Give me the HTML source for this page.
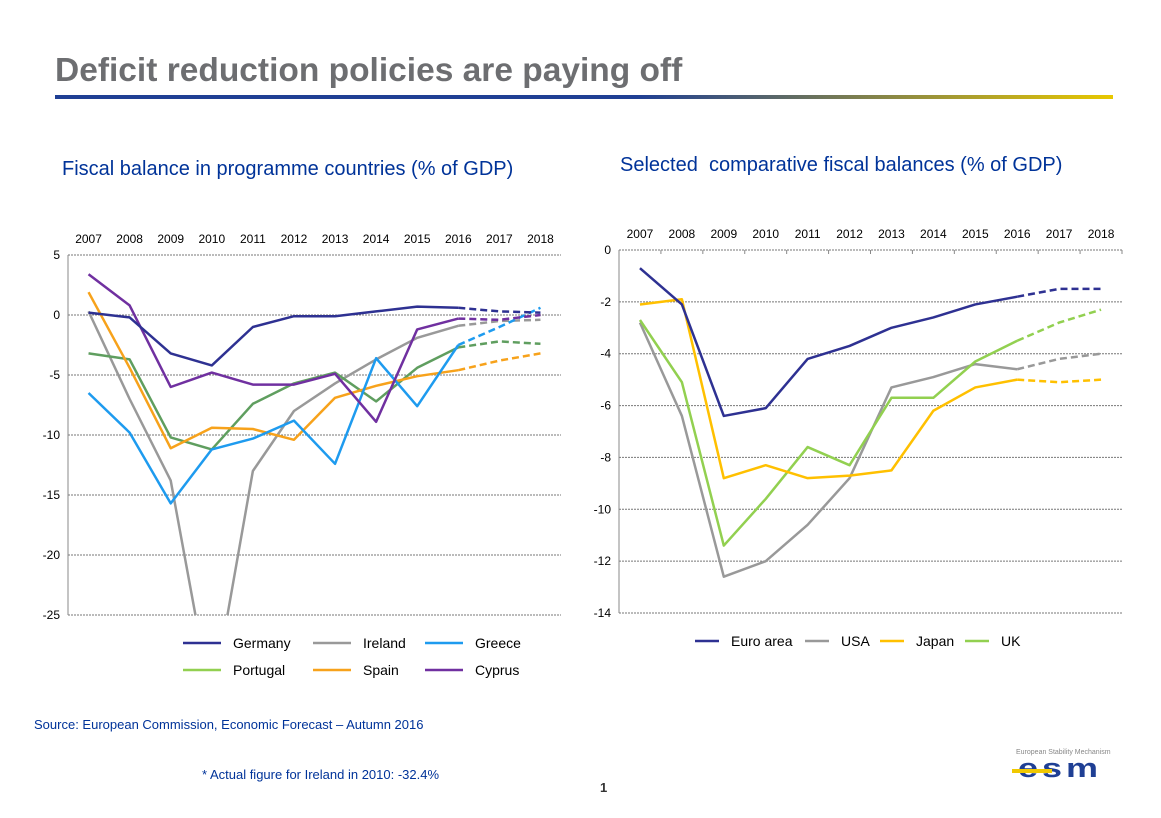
<!DOCTYPE html>
<html><head><meta charset="utf-8"><style>
body{margin:0;width:1161px;height:818px;background:#fff;font-family:"Liberation Sans",Arial,sans-serif;overflow:hidden;position:relative}
.t{position:absolute;white-space:nowrap}
</style></head><body>
<div class="t" style="left:55px;top:52px;font-size:33.5px;font-weight:bold;color:#6d6e71">Deficit reduction policies are paying off</div>
<div style="position:absolute;left:55px;top:95px;width:1058px;height:4px;background:linear-gradient(to right,#1f3f94 0%,#1f3f94 55%,#e8c800 100%)"></div>
<div class="t" style="left:62px;top:158px;font-size:20px;color:#003399">Fiscal balance in programme countries (% of GDP)</div>
<div class="t" style="left:620px;top:154px;font-size:20px;color:#003399">Selected&nbsp; comparative fiscal balances (% of GDP)</div>
<svg id="chart" width="1161" height="818" style="position:absolute;left:0;top:0"></svg>
<div class="t" style="left:34px;top:717px;font-size:13px;color:#003399">Source: European Commission, Economic Forecast – Autumn 2016</div>
<div class="t" style="left:202px;top:767px;font-size:13px;color:#003399">* Actual figure for Ireland in 2010: -32.4%</div>
<div class="t" style="left:600px;top:780px;font-size:13px;font-weight:bold;color:#333">1</div>
<div class="t" style="left:1016px;top:749px;font-size:7px;color:#888">European Stability Mechanism</div>
<div class="t" style="left:1018px;top:752px;font-size:36px;font-weight:bold;color:#1f3f94;letter-spacing:4px;transform:scaleY(0.75);transform-origin:top left">esm</div>
<div style="position:absolute;left:1012px;top:769px;width:40px;height:4px;background:#f0c800"></div>
<script>
const years=["2007","2008","2009","2010","2011","2012","2013","2014","2015","2016","2017","2018"];
const germany=[0.2,-0.2,-3.2,-4.2,-1.0,-0.1,-0.1,0.3,0.7,0.6,0.3,0.2];
const ireland=[0.3,-7.0,-13.8,-32.4,-13.0,-8.0,-5.7,-3.7,-1.9,-0.9,-0.5,-0.4];
const greece=[-6.5,-9.8,-15.7,-11.2,-10.3,-8.8,-12.4,-3.6,-7.6,-2.5,-1.0,0.6];
const portugal=[-3.2,-3.7,-10.2,-11.2,-7.4,-5.7,-4.8,-7.2,-4.4,-2.7,-2.2,-2.4];
const spain=[1.9,-4.4,-11.1,-9.4,-9.5,-10.4,-6.9,-5.9,-5.1,-4.6,-3.8,-3.2];
const cyprus=[3.4,0.8,-6.0,-4.8,-5.8,-5.8,-4.9,-8.9,-1.2,-0.3,-0.4,0.0];
const euroArea=[-0.7,-2.1,-6.4,-6.1,-4.2,-3.7,-3.0,-2.6,-2.1,-1.8,-1.5,-1.5];
const usa=[-2.8,-6.4,-12.6,-12.0,-10.6,-8.8,-5.3,-4.9,-4.4,-4.6,-4.2,-4.0];
const japan=[-2.1,-1.9,-8.8,-8.3,-8.8,-8.7,-8.5,-6.2,-5.3,-5.0,-5.1,-5.0];
const uk=[-2.7,-5.1,-11.4,-9.6,-7.6,-8.3,-5.7,-5.7,-4.3,-3.5,-2.8,-2.3];
const leftTicks=[5,0,-5,-10,-15,-20,-25];
const rightTicks=[0,-2,-4,-6,-8,-10,-12,-14];
const forecastStart=9;
const NS="http://www.w3.org/2000/svg";
const svg=document.getElementById("chart");
function mk(tag,attrs,parent){const e=document.createElementNS(NS,tag);for(const k in attrs)e.setAttribute(k,attrs[k]);(parent||svg).appendChild(e);return e;}
function chart(cfg){
  const {x0,x1,y0,y1,vmax,vmin,ticks,series,id,topTicks}=cfg;
  const bw=(x1-x0)/years.length;
  const X=i=>x0+bw*(i+0.5);
  const Y=v=>y0+(vmax-v)/(vmax-vmin)*(y1-y0);
  const g=mk("g",{});
  
  
  const cp=mk("clipPath",{id:id+"-clip"},g);
  mk("rect",{x:x0,y:y0-2,width:x1-x0,height:y1-y0+2},cp);
  ticks.forEach(t=>{
    const l=mk("line",{x1:x0,x2:x1,y1:Y(t),y2:Y(t),stroke:"#777","stroke-width":1,"stroke-dasharray":"2,1"},g);
    
    
    const tx=mk("text",{x:x0-8,y:Y(t)+4,"text-anchor":"end","font-size":12,fill:"#000"},g);
    tx.textContent=t;
    
    
  });
  const ax=mk("line",{x1:x0,x2:x0,y1:y0,y2:y1,stroke:"#888","stroke-width":1},g);
  
  
  if(topTicks){for(let i=0;i<=years.length;i++){const tk=mk("line",{x1:x0+bw*i,x2:x0+bw*i,y1:y0,y2:y0+4,stroke:"#888"},g);}}
  years.forEach((yr,i)=>{
    const tx=mk("text",{x:X(i),y:y0-12,"text-anchor":"middle","font-size":12,fill:"#000"},g);
    tx.textContent=yr;
    
    
  });
  series.forEach(s=>{
    const pts=s.data.map((v,i)=>X(i)+","+Y(v));
    const solid=mk("polyline",{points:pts.slice(0,forecastStart+1).join(" "),fill:"none",stroke:s.color,"stroke-width":2.5,"stroke-linejoin":"round","clip-path":"url(#"+id+"-clip)"},g);
    
    
    const dash=mk("polyline",{points:pts.slice(forecastStart).join(" "),fill:"none",stroke:s.color,"stroke-width":2.5,"stroke-dasharray":"7,4","clip-path":"url(#"+id+"-clip)"},g);
    
    
  });
}
chart({id:"left-chart",x0:68,x1:561,y0:255,y1:615,vmax:5,vmin:-25,ticks:leftTicks,topTicks:false,series:[
 {name:"ireland",data:ireland,color:"#999999"},
 {name:"portugal",data:portugal,color:"#5f9e5f"},
 {name:"spain",data:spain,color:"#f7a21b"},
 {name:"greece",data:greece,color:"#1e9bef"},
 {name:"cyprus",data:cyprus,color:"#7030a0"},
 {name:"germany",data:germany,color:"#2e3192"}]});
chart({id:"right-chart",x0:619,x1:1122,y0:250,y1:613,vmax:0,vmin:-14,ticks:rightTicks,topTicks:true,series:[
 {name:"usa",data:usa,color:"#999999"},
 {name:"uk",data:uk,color:"#92d050"},
 {name:"japan",data:japan,color:"#ffc000"},
 {name:"euro-area",data:euroArea,color:"#2e3192"}]});
function legend(items){
  items.forEach(it=>{
    const g=mk("g",{});
    
    
    mk("line",{x1:it.x,x2:it.x+(it.w||38),y1:it.y,y2:it.y,stroke:it.c,"stroke-width":2.5},g);
    const t=mk("text",{x:it.x+(it.w||38)+12,y:it.y+5,"font-size":14,fill:"#000"},g);
    t.textContent=it.n;
  });
}
legend([
 {n:"Germany",c:"#2e3192",x:183,y:643},{n:"Ireland",c:"#999999",x:313,y:643},{n:"Greece",c:"#1e9bef",x:425,y:643},
 {n:"Portugal",c:"#92d050",x:183,y:670},{n:"Spain",c:"#f7a21b",x:313,y:670},{n:"Cyprus",c:"#7030a0",x:425,y:670},
 {n:"Euro area",c:"#2e3192",x:695,y:641,w:24},{n:"USA",c:"#999999",x:805,y:641,w:24},{n:"Japan",c:"#ffc000",x:880,y:641,w:24},{n:"UK",c:"#92d050",x:965,y:641,w:24}
]);
</script>
</body></html>
